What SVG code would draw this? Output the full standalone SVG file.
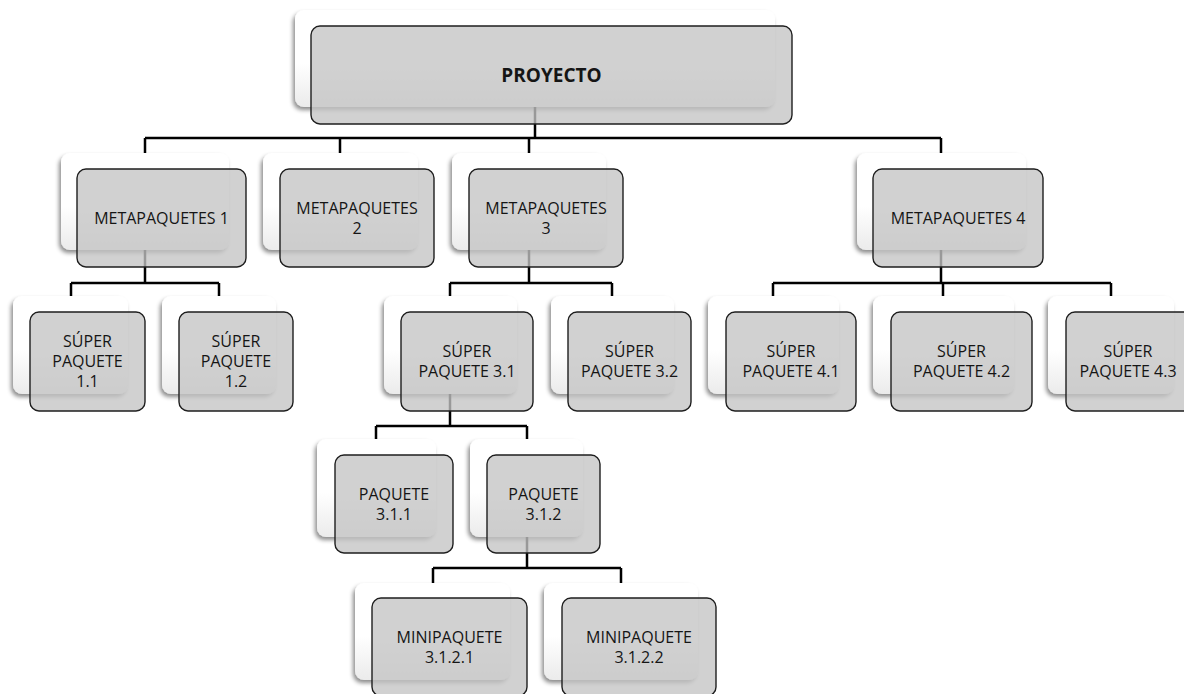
<svg xmlns="http://www.w3.org/2000/svg" width="1184" height="694" viewBox="0 0 1184 694">
  <defs>
    <linearGradient id="cardFill" x1="0" y1="0" x2="0" y2="1">
      <stop offset="0" stop-color="#ffffff"/>
      <stop offset="0.55" stop-color="#ffffff"/>
      <stop offset="1" stop-color="#ebebeb"/>
    </linearGradient>
    <filter id="cardShadow" x="-10%" y="-10%" width="120%" height="130%">
      <feDropShadow dx="-2" dy="3" stdDeviation="2" flood-color="#000" flood-opacity="0.45"/>
    </filter>
    <style>
      .back { fill: url(#cardFill); filter: url(#cardShadow); }
      .front { fill: #c4c4c4; fill-opacity: 0.78; stroke: #1e1e1e; stroke-width: 1.4; }
      .wire { fill: none; stroke: #000; stroke-width: 2.5; }
      text { font-family: "Open Sans", "Noto Sans", "Liberation Sans", sans-serif; font-size: 16px; fill: #151515; text-anchor: middle; }
      .title { font-size: 19px; font-weight: bold; }
    </style>
  </defs>
  <rect width="1184" height="694" fill="#ffffff"/>

  <!-- connectors (drawn beneath the cards) -->
  <g id="connectors">
    <path class="wire" d="M535 100 V138 M145 138 H941 M145 138 V160 M340 138 V160 M529 138 V160 M941 138 V160"/>
    <path class="wire" d="M145 245 V283 M71 283 H219 M71 283 V300 M219 283 V300"/>
    <path class="wire" d="M529 245 V283 M450 283 H612 M450 283 V300 M612 283 V300"/>
    <path class="wire" d="M941 245 V283 M773 283 H1111 M773 283 V300 M943 283 V300 M1111 283 V300"/>
    <path class="wire" d="M450 390 V426 M376 426 H527 M376 426 V443 M527 426 V443"/>
    <path class="wire" d="M527 533 V568 M433 568 H621 M433 568 V587 M621 568 V587"/>
  </g>

  <!-- root -->
  <g id="proyecto">
    <rect class="back" x="295" y="10" width="480" height="97" rx="9"/>
    <rect class="front" x="311" y="26" width="481" height="98" rx="9"/>
    <text class="title" x="551.5" y="82">PROYECTO</text>
  </g>

  <!-- level 1 -->
  <g id="metapaquetes-1">
    <rect class="back" x="61" y="153" width="168" height="97" rx="9"/>
    <rect class="front" x="77" y="169" width="169" height="98" rx="9"/>
    <text x="161.5" y="224">METAPAQUETES 1</text>
  </g>
  <g id="metapaquetes-2">
    <rect class="back" x="263" y="153" width="155" height="97" rx="9"/>
    <rect class="front" x="280" y="169" width="154" height="98" rx="9"/>
    <text x="357" y="214">METAPAQUETES</text>
    <text x="357" y="234">2</text>
  </g>
  <g id="metapaquetes-3">
    <rect class="back" x="452" y="153" width="154" height="97" rx="9"/>
    <rect class="front" x="469" y="169" width="154" height="98" rx="9"/>
    <text x="546" y="214">METAPAQUETES</text>
    <text x="546" y="234">3</text>
  </g>
  <g id="metapaquetes-4">
    <rect class="back" x="857" y="153" width="169" height="97" rx="9"/>
    <rect class="front" x="873" y="169" width="170" height="98" rx="9"/>
    <text x="958" y="224">METAPAQUETES 4</text>
  </g>

  <!-- level 2 -->
  <g id="super-paquete-1-1">
    <rect class="back" x="13" y="296" width="115" height="98" rx="9"/>
    <rect class="front" x="30" y="312" width="115" height="99" rx="9"/>
    <text x="87.5" y="347">SÚPER</text>
    <text x="87.5" y="367">PAQUETE</text>
    <text x="87.5" y="387">1.1</text>
  </g>
  <g id="super-paquete-1-2">
    <rect class="back" x="162" y="296" width="114" height="98" rx="9"/>
    <rect class="front" x="179" y="312" width="114" height="99" rx="9"/>
    <text x="236" y="347">SÚPER</text>
    <text x="236" y="367">PAQUETE</text>
    <text x="236" y="387">1.2</text>
  </g>
  <g id="super-paquete-3-1">
    <rect class="back" x="384" y="296" width="133" height="98" rx="9"/>
    <rect class="front" x="401" y="312" width="132" height="99" rx="9"/>
    <text x="467" y="357">SÚPER</text>
    <text x="467" y="377">PAQUETE 3.1</text>
  </g>
  <g id="super-paquete-3-2">
    <rect class="back" x="551" y="296" width="123" height="98" rx="9"/>
    <rect class="front" x="568" y="312" width="123" height="99" rx="9"/>
    <text x="629.5" y="357">SÚPER</text>
    <text x="629.5" y="377">PAQUETE 3.2</text>
  </g>
  <g id="super-paquete-4-1">
    <rect class="back" x="708" y="296" width="131" height="98" rx="9"/>
    <rect class="front" x="726" y="312" width="130" height="99" rx="9"/>
    <text x="791" y="357">SÚPER</text>
    <text x="791" y="377">PAQUETE 4.1</text>
  </g>
  <g id="super-paquete-4-2">
    <rect class="back" x="873" y="296" width="141" height="98" rx="9"/>
    <rect class="front" x="891" y="312" width="141" height="99" rx="9"/>
    <text x="961.5" y="357">SÚPER</text>
    <text x="961.5" y="377">PAQUETE 4.2</text>
  </g>
  <g id="super-paquete-4-3">
    <rect class="back" x="1048" y="296" width="126" height="98" rx="9"/>
    <rect class="front" x="1066" y="312" width="126" height="99" rx="9"/>
    <text x="1128" y="357">SÚPER</text>
    <text x="1128" y="377">PAQUETE 4.3</text>
  </g>

  <!-- level 3 -->
  <g id="paquete-3-1-1">
    <rect class="back" x="317" y="439" width="119" height="98" rx="9"/>
    <rect class="front" x="335" y="455" width="118" height="98" rx="9"/>
    <text x="394" y="500">PAQUETE</text>
    <text x="394" y="520">3.1.1</text>
  </g>
  <g id="paquete-3-1-2">
    <rect class="back" x="470" y="439" width="113" height="98" rx="9"/>
    <rect class="front" x="487" y="455" width="113" height="98" rx="9"/>
    <text x="543.5" y="500">PAQUETE</text>
    <text x="543.5" y="520">3.1.2</text>
  </g>

  <!-- level 4 -->
  <g id="minipaquete-3-1-2-1">
    <rect class="back" x="355" y="583" width="155" height="97" rx="9"/>
    <rect class="front" x="372" y="598" width="155" height="98" rx="9"/>
    <text x="449.5" y="643">MINIPAQUETE</text>
    <text x="449.5" y="663">3.1.2.1</text>
  </g>
  <g id="minipaquete-3-1-2-2">
    <rect class="back" x="544" y="583" width="154" height="97" rx="9"/>
    <rect class="front" x="562" y="598" width="154" height="98" rx="9"/>
    <text x="639" y="643">MINIPAQUETE</text>
    <text x="639" y="663">3.1.2.2</text>
  </g>
</svg>
